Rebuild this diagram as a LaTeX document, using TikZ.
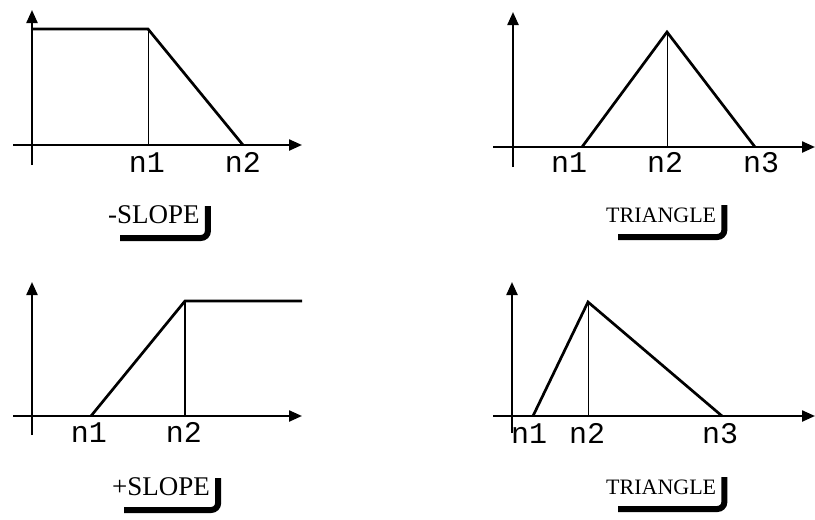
\documentclass[tikz,border=0pt]{standalone}
\usepackage{fontspec}
\setmainfont{Liberation Serif}
\newfontfamily\monof{Liberation Mono}
\usetikzlibrary{arrows.meta,calc}
\tikzset{
  axis/.style={line width=2.3pt,-{Triangle[length=13pt,width=11pt]}},
  curve/.style={line width=2.7pt,line join=miter},
  drop/.style={line width=1pt},
  tick/.style={font=\monof\fontsize{30}{30}\selectfont,anchor=base,inner sep=0pt},
  title/.style={font=\fontsize{27}{27}\selectfont,anchor=base west,inner sep=0pt},
  trititle/.style={font=\fontsize{22}{22}\selectfont,anchor=base west,inner sep=0pt},
  shadowline/.style={line width=6pt,rounded corners=7pt}
}
\newcommand{\shadowof}[1]{%
  \draw[shadowline] ($(#1.base west)+(12,15)$) -- ($(#1.base east)+(8,15)$) -- ($(#1.base east)+(8,-17)$);}
\begin{document}
\begin{tikzpicture}[x=1pt,y=-1pt]
\useasboundingbox (0,0) rectangle (815,520);
% ---------- top-left: -SLOPE
\coordinate (tlyb) at (32,165); \coordinate (tlyt) at (32,10);
\coordinate (tlxl) at (13,145); \coordinate (tlxr) at (302,145);
\coordinate (tlp0) at (32,29); \coordinate (tlp1) at (148,29);
\coordinate (tlp1b) at (148,145); \coordinate (tlp2) at (243,145);
\draw[axis] (tlyb) -- (tlyt);
\draw[axis] (tlxl) -- (tlxr);
\draw[drop] (tlp1) -- (tlp1b);
\draw[curve] (tlp0) -- (tlp1) -- (tlp2);
\node[tick] (tln1) at (147,172) {n1};
\node[tick] (tln2) at (243,172) {n2};
\node[title] (tlt) at (108,223) {-SLOPE};
\shadowof{tlt}
% ---------- top-right: TRIANGLE
\coordinate (tryb) at (513,167); \coordinate (tryt) at (513,12);
\coordinate (trxl) at (493,147); \coordinate (trxr) at (815,147);
\coordinate (trp1) at (582,147); \coordinate (trp2) at (667,32);
\coordinate (trp2b) at (667,147); \coordinate (trp3) at (755,147);
\draw[axis] (tryb) -- (tryt);
\draw[axis] (trxl) -- (trxr);
\draw[drop] (trp2) -- (trp2b);
\draw[curve] (trp1) -- (trp2) -- (trp3);
\node[tick] (trn1) at (569,172) {n1};
\node[tick] (trn2) at (665,172) {n2};
\node[tick] (trn3) at (761,172) {n3};
\node[trititle] (trt) at (606,222) {TRIANGLE};
\shadowof{trt}
% ---------- bottom-left: +SLOPE
\coordinate (blyb) at (32,435); \coordinate (blyt) at (32,282);
\coordinate (blxl) at (13,416); \coordinate (blxr) at (302,416);
\coordinate (blp1) at (91,416); \coordinate (blp2) at (185,301);
\coordinate (blp2b) at (185,416); \coordinate (blp3) at (302,301);
\draw[axis] (blyb) -- (blyt);
\draw[axis] (blxl) -- (blxr);
\draw[drop,line width=1.5pt] (blp2) -- (blp2b);
\draw[curve] (blp1) -- (blp2) -- (blp3);
\node[tick] (bln1) at (89,442) {n1};
\node[tick] (bln2) at (184,442) {n2};
\node[title] (blt) at (112,495) {+SLOPE};
\shadowof{blt}
% ---------- bottom-right: TRIANGLE
\coordinate (bryb) at (512,433); \coordinate (bryt) at (512,282);
\coordinate (brxl) at (493,416); \coordinate (brxr) at (815,416);
\coordinate (brp1) at (533,416); \coordinate (brp2) at (588,302);
\coordinate (brp2b) at (588,416); \coordinate (brp3) at (722,416);
\draw[axis] (bryb) -- (bryt);
\draw[axis] (brxl) -- (brxr);
\draw[drop] (brp2) -- (brp2b);
\draw[curve] (brp1) -- (brp2) -- (brp3);
\node[tick] (brn1) at (529,443) {n1};
\node[tick] (brn2) at (587,443) {n2};
\node[tick] (brn3) at (720,443) {n3};
\node[trititle] (brt) at (606,494) {TRIANGLE};
\shadowof{brt}
\end{tikzpicture}
\end{document}
